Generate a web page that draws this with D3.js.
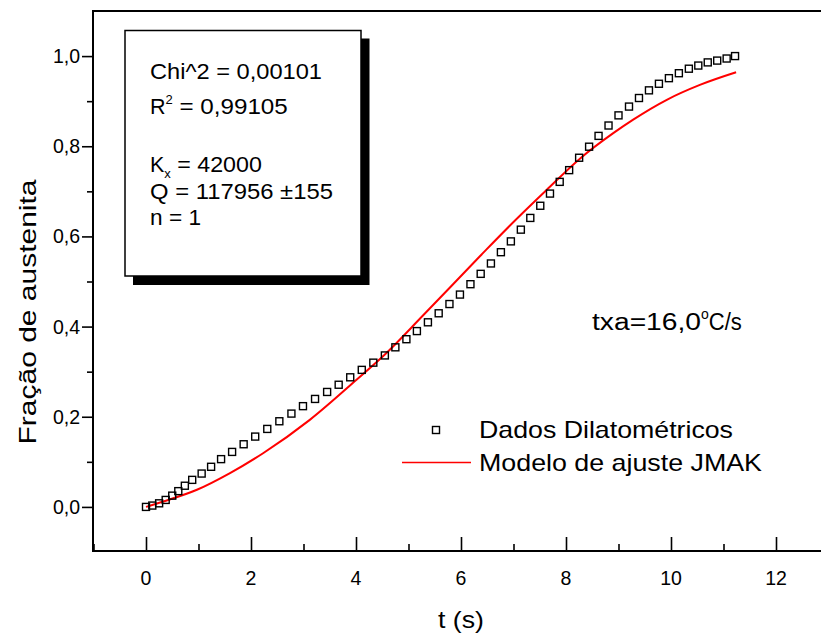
<!DOCTYPE html>
<html><head><meta charset="utf-8">
<script src="https://cdn.jsdelivr.net/npm/d3@7"></script>
<style>body{margin:0;background:#fff}svg{display:block}text{font-family:Arial,"Liberation Sans",sans-serif;fill:#000}</style>
</head><body><svg id="c" width="821" height="633"></svg>
<script>
const dataT = [0,0.12,0.25,0.375,0.5,0.615,0.74,0.88,1.06,1.24,1.43,1.64,1.86,2.08,2.31,2.54,2.77,2.99,3.22,3.45,3.67,3.89,4.11,4.33,4.55,4.75,4.96,5.16,5.37,5.575,5.78,5.98,6.18,6.375,6.57,6.76,6.95,7.14,7.32,7.51,7.695,7.88,8.06,8.25,8.44,8.62,8.81,9.0,9.2,9.39,9.58,9.77,9.96,10.15,10.34,10.52,10.7,10.88,11.06,11.22];
const dataY = [0,0.003,0.008,0.0155,0.025,0.035,0.047,0.06,0.074,0.089,0.106,0.122,0.139,0.156,0.173,0.19,0.207,0.2235,0.2395,0.255,0.271,0.2875,0.304,0.32,0.336,0.354,0.372,0.39,0.4095,0.4295,0.45,0.471,0.494,0.517,0.54,0.565,0.589,0.615,0.641,0.668,0.695,0.721,0.747,0.7745,0.799,0.823,0.846,0.8685,0.888,0.907,0.924,0.9386,0.951,0.962,0.972,0.979,0.986,0.99,0.9946,1.0];
const fitT = [0,0.33,0.97,1.6,2.23,3.12,4.01,4.55,5.28,6.36,7.0,7.63,8.27,8.9,9.28,9.92,10.55,11.24];
const fitY = [0,0.012,0.038,0.075,0.119,0.193,0.282,0.338,0.425,0.556,0.632,0.703,0.773,0.829,0.859,0.903,0.936,0.964];
const xTicks = [0,2,4,6,8,10,12];
const xMinor = [-1,1,3,5,7,9,11,13];
const yTicks = [0,0.2,0.4,0.6,0.8,1.0];
const yTickLabels = ["0,0","0,2","0,4","0,6","0,8","1,0"];
const yMinor = [0.1,0.3,0.5,0.7,0.9];
const legendLabels = ["Dados Dilatométricos","Modelo de ajuste JMAK"];

const svg = d3.select("#c");
const x = d3.scaleLinear().domain([-1,13]).range([93.5,828.5]);
const y = d3.scaleLinear().domain([-0.1,1.1]).range([552,11]);

// frame
svg.append("rect").attr("x",93).attr("y",11).attr("width",740).attr("height",540)
  .attr("fill","none").attr("stroke","#000").attr("stroke-width",2);

// bottom axis ticks (inward)
const gx = svg.append("g").attr("transform","translate(0,551)");
gx.call(d3.axisBottom(x).tickValues(xTicks).tickSize(-14).tickFormat("")).call(g=>g.select(".domain").remove());
gx.selectAll(".tick line").attr("stroke","#000").attr("stroke-width",1.6);
const gxm = svg.append("g").attr("transform","translate(0,551)");
gxm.call(d3.axisBottom(x).tickValues(xMinor).tickSize(-7).tickFormat("")).call(g=>g.select(".domain").remove());
gxm.selectAll(".tick line").attr("stroke","#000").attr("stroke-width",1.6);
svg.selectAll(".xl").data(xTicks).enter().append("text")
  .attr("x",d=>x(d)).attr("y",585).attr("text-anchor","middle").attr("font-size",19.5).text(d=>d);

// left axis ticks (outward)
const gy = svg.append("g").attr("transform","translate(93,0)");
gy.call(d3.axisLeft(y).tickValues(yTicks).tickSize(11).tickFormat("")).call(g=>g.select(".domain").remove());
gy.selectAll(".tick line").attr("stroke","#000").attr("stroke-width",1.6);
const gym = svg.append("g").attr("transform","translate(93,0)");
gym.call(d3.axisLeft(y).tickValues(yMinor).tickSize(6).tickFormat("")).call(g=>g.select(".domain").remove());
gym.selectAll(".tick line").attr("stroke","#000").attr("stroke-width",1.6);
svg.selectAll(".yl").data(yTicks).enter().append("text")
  .attr("x",80).attr("y",d=>y(d)+7).attr("text-anchor","end").attr("font-size",19.5)
  .text((d,i)=>yTickLabels[i]);

// axis titles
svg.append("text").attr("x",x(6)).attr("y",628).attr("text-anchor","middle").attr("font-size",24)
  .attr("textLength",46).attr("lengthAdjust","spacingAndGlyphs").text("t (s)");
svg.append("text").attr("transform","translate(36,312) rotate(-90)").attr("text-anchor","middle")
  .attr("font-size",24).attr("textLength",265).attr("lengthAdjust","spacingAndGlyphs").text("Fração de austenita");

// fit line
const line = d3.line().x(d=>x(d[0])).y(d=>y(d[1])).curve(d3.curveMonotoneX);
svg.append("path").datum(fitT.map((t,i)=>[t,fitY[i]])).attr("d",line)
  .attr("fill","none").attr("stroke","#ff0000").attr("stroke-width",2);

// data squares
svg.selectAll(".pt").data(dataT.map((t,i)=>[t,dataY[i]])).enter().append("rect")
  .attr("x",d=>x(d[0])-3.5).attr("y",d=>y(d[1])-3.5).attr("width",7).attr("height",7)
  .attr("fill","none").attr("stroke","#000").attr("stroke-width",1.4);

// info box with shadow
svg.append("rect").attr("x",133).attr("y",38.5).attr("width",236.5).attr("height",246.5).attr("fill","#000");
svg.append("rect").attr("x",125).attr("y",30.5).attr("width",236).attr("height",245.5)
  .attr("fill","#fff").attr("stroke","#000").attr("stroke-width",1.5);
const fs = 21.5;
function fit(sel,len){ return sel.attr("textLength",len).attr("lengthAdjust","spacingAndGlyphs"); }
fit(svg.append("text").attr("x",150).attr("y",79).attr("font-size",fs),172).text("Chi^2 = 0,00101");
const r2 = svg.append("text").attr("x",150).attr("y",114).attr("font-size",fs);
r2.append("tspan").text("R");
r2.append("tspan").attr("dy",-10).attr("font-size",13).text("2");
fit(r2.append("tspan").attr("dy",10),115).text(" = 0,99105");
const kx = svg.append("text").attr("x",150).attr("y",172).attr("font-size",fs);
kx.append("tspan").text("K");
kx.append("tspan").attr("dy",6).attr("font-size",13).text("x");
fit(kx.append("tspan").attr("dy",-6),91).text(" = 42000");
fit(svg.append("text").attr("x",150).attr("y",199).attr("font-size",fs),183).text("Q = 117956 ±155");
fit(svg.append("text").attr("x",150).attr("y",225).attr("font-size",fs),51).text("n = 1");

// rate annotation
const tx = svg.append("text").attr("x",592).attr("y",330).attr("font-size",23.5);
fit(tx.append("tspan"),109).text("txa=16,0");
tx.append("tspan").attr("dy",-11).attr("font-size",14).text("o");
fit(tx.append("tspan").attr("dy",11),33).text("C/s");

// legend
svg.append("rect").attr("x",432.5).attr("y",426.5).attr("width",7).attr("height",7)
  .attr("fill","none").attr("stroke","#000").attr("stroke-width",1.4);
fit(svg.append("text").attr("x",479).attr("y",438).attr("font-size",24),254).text(legendLabels[0]);
svg.append("line").attr("x1",402).attr("x2",471).attr("y1",462.5).attr("y2",462.5)
  .attr("stroke","#ff0000").attr("stroke-width",1.6);
fit(svg.append("text").attr("x",479).attr("y",471).attr("font-size",24),283).text(legendLabels[1]);
</script></body></html>
